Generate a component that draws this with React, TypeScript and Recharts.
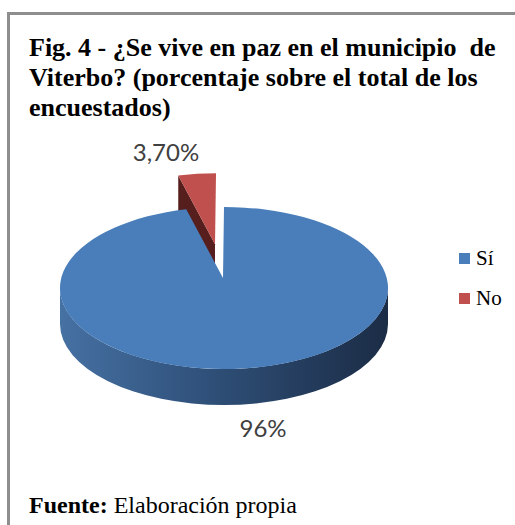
import React from 'react';
import { PieChart, Pie, Legend } from 'recharts';

// Fig. 4 - ¿Se vive en paz en el municipio de Viterbo?
const CATEGORIES = ['Sí', 'No'];
const VALUES = [96.3, 3.7];
const LABELS = ['96%', '3,70%'];

const TITLE = 'Fig. 4 - ¿Se vive en paz en el municipio  de\nViterbo? (porcentaje sobre el total de los\nencuestados)';

const SERIF = "'Liberation Serif', 'Times New Roman', Times, Tinos, 'DejaVu Serif', serif";

const COLORS: Record<string, string> = { 'Sí': '#4a7ebb', 'No': '#c0504d' };
const WALL_COLORS: Record<string, string> = { 'Sí': '#2f4f77', 'No': '#561f1d' };
const SIDE_STOPS: Record<string, string[]> = {
  'Sí': ['#4671a3', '#2f5079', '#1b2c45'],
  'No': ['#8e3a38', '#6a2624', '#451715'],
};

// 3d look
const K = 81 / 164; // vertical squash of the ellipse
const DEPTH = 36;
const APEX_DX = -1;
const APEX_DY = -10;
const EXPLODED = 'No';
const EXPLODE = 0.42;
const LABEL_NUDGE: Record<string, [number, number]> = { 'Sí': [20, 23], 'No': [-31, -22] };

const total = VALUES.reduce((a, b) => a + b, 0);
// drawn back to front: the exploded slice first
const pieData = [1, 0].map(i => ({ name: CATEGORIES[i], value: VALUES[i], label: LABELS[i] }));
const START = 90 + (360 * VALUES[1]) / total;

const rad = (d: number) => (d * Math.PI) / 180;
const pt = (cx: number, cy: number, r: number, deg: number) =>
  [cx + r * Math.cos(rad(deg)), cy - r * K * Math.sin(rad(deg))];
const s = (p: number[]) => `${p[0].toFixed(2)},${p[1].toFixed(2)}`;

function offsetFor(name: string, r: number, midAngle: number) {
  if (name !== EXPLODED) return [0, 0];
  return [EXPLODE * r * Math.cos(rad(midAngle)), -EXPLODE * r * K * Math.sin(rad(midAngle))];
}

function Slice3D(props: any) {
  const { cx, cy, outerRadius: r, startAngle, endAngle, midAngle, payload } = props;
  const name = payload?.name ?? props.name;
  const [ox, oy] = offsetFor(name, r, midAngle);
  const X = cx + ox;
  const Y = cy + oy;
  const apex = [X + APEX_DX, Y + APEX_DY];
  const down = (p: number[]) => [p[0], p[1] + DEPTH];
  const ry = r * K;

  const p0 = pt(X, Y, r, startAngle);
  const p1 = pt(X, Y, r, endAngle);
  const large = Math.abs(startAngle - endAngle) > 180 ? 1 : 0;
  const sweep = startAngle > endAngle ? 1 : 0;
  const top = `M${s(apex)} L${s(p0)} A${r} ${ry} 0 ${large} ${sweep} ${s(p1)} Z`;

  // front part of the rim
  const lo = Math.min(startAngle, endAngle);
  const hi = Math.max(startAngle, endAngle);
  const rims: string[] = [];
  for (let k = -2; k <= 1; k++) {
    const a = Math.max(lo, 180 + 360 * k);
    const b = Math.min(hi, 360 + 360 * k);
    if (b - a > 0.01) {
      const pa = pt(X, Y, r, a);
      const pb = pt(X, Y, r, b);
      rims.push(
        `M${s(pa)} A${r} ${ry} 0 0 0 ${s(pb)} L${s(down(pb))} A${r} ${ry} 0 0 1 ${s(down(pa))} Z`
      );
    }
  }

  // radial walls facing the viewer
  const walls: string[] = [];
  if (Math.cos(rad(hi)) < -0.001) {
    const p = pt(X, Y, r, hi);
    walls.push(`M${s(apex)} L${s(p)} L${s(down(p))} L${s(down(apex))} Z`);
  }
  if (Math.cos(rad(lo)) > 0.001) {
    const p = pt(X, Y, r, lo);
    walls.push(`M${s(apex)} L${s(p)} L${s(down(p))} L${s(down(apex))} Z`);
  }

  const gid = `side-${name === 'Sí' ? 'si' : 'no'}`;
  const stops = SIDE_STOPS[name];
  return (
    <g>
      <defs>
        <linearGradient id={gid} gradientUnits="userSpaceOnUse" x1={X - r} y1={0} x2={X + r} y2={0}>
          <stop offset="0%" stopColor={stops[0]} />
          <stop offset="45%" stopColor={stops[1]} />
          <stop offset="100%" stopColor={stops[2]} />
        </linearGradient>
      </defs>
      {walls.map((d, i) => (
        <path key={`w${i}`} d={d} fill={WALL_COLORS[name]} />
      ))}
      {rims.map((d, i) => (
        <path key={`r${i}`} d={d} fill={`url(#${gid})`} />
      ))}
      <path d={top} fill={COLORS[name]} />
    </g>
  );
}

function renderLabel(props: any) {
  const { cx, cy, outerRadius: r, midAngle, payload } = props;
  const name = payload?.name ?? props.name;
  const [ox, oy] = offsetFor(name, r, midAngle);
  const p = pt(cx + ox, cy + oy, r, midAngle);
  const front = Math.sin(rad(midAngle)) < 0;
  const [nx, ny] = LABEL_NUDGE[name];
  return (
    <text
      x={p[0] + nx}
      y={p[1] + (front ? DEPTH : 0) + ny}
      textAnchor="middle"
      dominantBaseline="central"
      fill="#404040"
      fontSize={24}
      fontFamily="Lato, 'Open Sans', sans-serif"
    >
      {payload?.label}
    </text>
  );
}

function LegendBox() {
  return (
    <div style={{ fontFamily: SERIF, fontSize: 21, color: '#000' }}>
      {CATEGORIES.map(c => (
        <div key={c} style={{ display: 'flex', alignItems: 'center', height: 40 }}>
          <span style={{ display: 'inline-block', width: 11, height: 11, background: COLORS[c], marginRight: 6 }} />
          <span>{c}</span>
        </div>
      ))}
    </div>
  );
}

export default function App() {
  return (
    <div
      style={{
        position: 'absolute',
        left: 0,
        top: 0,
        width: 515,
        height: 525,
        background: '#fff',
        overflow: 'hidden',
        fontFamily: SERIF,
      }}
    >
      <div
        style={{
          position: 'absolute',
          left: 7,
          top: 12,
          width: 540,
          height: 560,
          borderTop: '3px solid #8e8e8e',
          borderLeft: '3px solid #8e8e8e',
        }}
      />
      <div style={{ position: 'absolute', left: 0, top: 0 }}>
        <PieChart width={515} height={525} margin={{ top: 0, right: 0, bottom: 0, left: 0 }}>
          <Pie
            data={pieData}
            dataKey="value"
            nameKey="name"
            cx={224}
            cy={288}
            outerRadius={164}
            startAngle={START}
            endAngle={START - 360}
            stroke="none"
            labelLine={false}
            label={renderLabel}
            shape={Slice3D}
            inactiveShape={Slice3D}
            activeShape={Slice3D}
            isAnimationActive={false}
          />
          <Legend
            layout="vertical"
            align="right"
            verticalAlign="top"
            content={() => <LegendBox />}
            wrapperStyle={{ left: 459, top: 238, width: 56 }}
          />
        </PieChart>
      </div>
      <div
        style={{
          position: 'absolute',
          left: 29,
          top: 33,
          fontFamily: SERIF,
          fontSize: 26,
          fontWeight: 'bold',
          lineHeight: '30px',
          whiteSpace: 'pre',
          color: '#000',
        }}
      >
        {TITLE}
      </div>
      <div
        style={{
          position: 'absolute',
          left: 29,
          top: 492,
          fontFamily: SERIF,
          fontSize: 24,
          lineHeight: '26px',
          whiteSpace: 'nowrap',
          color: '#000',
        }}
      >
        <b>Fuente:</b> Elaboración propia
      </div>
    </div>
  );
}
